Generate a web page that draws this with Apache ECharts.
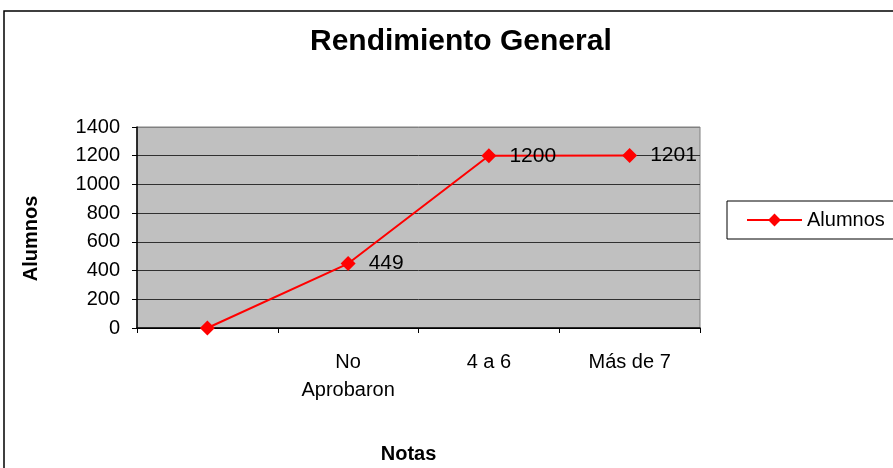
<!DOCTYPE html>
<html>
<head>
<meta charset="utf-8">
<script src="https://cdn.jsdelivr.net/npm/echarts@6/dist/echarts.min.js"></script>
<style>
  html, body { margin: 0; padding: 0; background: #fff; }
  #chart { width: 893px; height: 468px; }
</style>
</head>
<body>
<div id="chart"></div>
<script>
const categories = ["", "No\nAprobaron", "4 a 6", "Más de 7"];
const alumnos = [0, 449, 1200, 1201];
const yTicks = [0, 200, 400, 600, 800, 1000, 1200, 1400];

const font = "Liberation Sans, Arial, sans-serif";

const chart = echarts.init(document.getElementById("chart"));
chart.setOption({
  animation: false,
  backgroundColor: "#fff",
  textStyle: { fontFamily: font },
  graphic: [
    {
      type: "rect",
      shape: { x: 4, y: 11, width: 1000, height: 1000 },
      style: { fill: "none", stroke: "#000", lineWidth: 1.5 },
      silent: true,
    },
  ],
  title: {
    text: "Rendimiento General",
    left: 305,
    top: 22,
    textStyle: { fontFamily: font, fontSize: 30, fontWeight: "bold", color: "#000" },
  },
  legend: {
    left: 727,
    top: 201,
    orient: "vertical",
    borderColor: "#000",
    borderWidth: 1,
    borderRadius: 0,
    padding: [9, 12, 9, 19],
    itemWidth: 55,
    itemHeight: 16,
    textStyle: { fontFamily: font, fontSize: 20, color: "#000" },
    data: ["Alumnos"],
  },
  grid: {
    left: 137,
    right: 193,
    top: 127,
    bottom: 140,
    outerBoundsMode: "none",
    show: true,
    backgroundColor: "#c0c0c0",
    borderColor: "#808080",
    borderWidth: 1,
  },
  xAxis: {
    type: "category",
    data: categories,
    boundaryGap: true,
    name: "Notas",
    nameLocation: "middle",
    nameGap: 116,
    nameTextStyle: { fontFamily: font, fontSize: 20, fontWeight: "bold", color: "#000", padding: [0, 20, 0, 0] },
    axisLine: { lineStyle: { color: "#000", width: 1.5 } },
    axisTick: { show: true, length: 5, lineStyle: { color: "#000" } },
    axisLabel: {
      fontFamily: font,
      fontSize: 20,
      color: "#000",
      margin: 20,
      lineHeight: 28,
    },
  },
  yAxis: {
    type: "value",
    min: 0,
    max: 1400,
    interval: 200,
    name: "Alumnos",
    nameLocation: "middle",
    nameGap: 96,
    nameRotate: 90,
    nameTextStyle: { fontFamily: font, fontSize: 20, fontWeight: "bold", color: "#000", padding: [0, 22, 0, 0] },
    axisLine: { show: true, lineStyle: { color: "#000", width: 1.5 } },
    axisTick: { show: true, length: 5, lineStyle: { color: "#000" } },
    axisLabel: {
      fontFamily: font,
      fontSize: 20,
      color: "#000",
      margin: 17,
      customValues: yTicks,
      formatter: (v) => String(v),
    },
    splitLine: {
      show: true,
      lineStyle: { color: ["#000", "#303030", "#303030", "#303030", "#303030", "#303030", "#303030", "#808080"], width: 1 },
    },
  },
  series: [
    {
      name: "Alumnos",
      type: "line",
      data: alumnos.map((v, i) => ({ value: v, label: { show: i > 0 } })),
      symbol: "diamond",
      symbolSize: 15,
      itemStyle: { color: "#ff0000" },
      lineStyle: { color: "#ff0000", width: 2 },
      label: {
        show: true,
        position: "right",
        distance: 13,
        fontFamily: font,
        fontSize: 21,
        color: "#000",
      },
    },
  ],
});
</script>
</body>
</html>
